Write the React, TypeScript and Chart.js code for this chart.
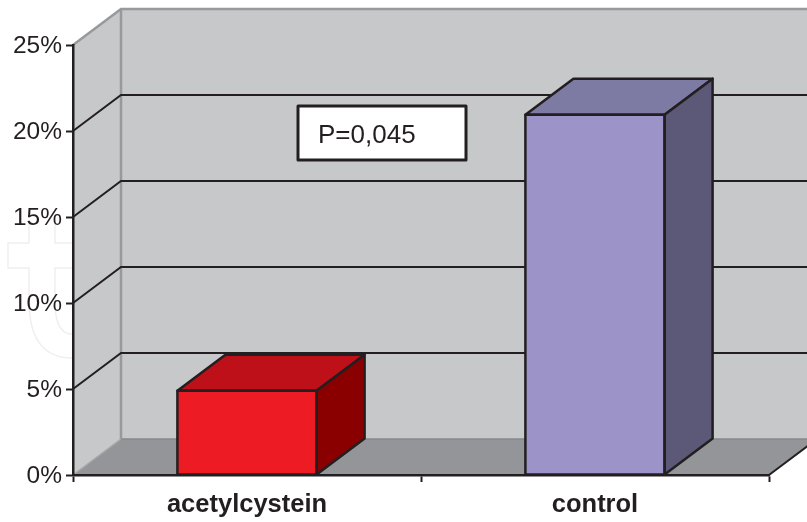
import React, { useEffect, useRef } from "react";
import { Chart, registerables } from "chart.js";

Chart.register(...registerables);

const categories = ["acetylcystein", "control"];
const percentValues = [4.9, 20.95];
const frontColors = ["#ed1c24", "#9c94c8"];
const topColors = ["#bd1018", "#7d7ba3"];
const sideColors = ["#8a0000", "#5c5878"];
const pValueLabel = "P=0,045";

const INK = "#231f20";
const WALL = "#c7c8ca";
const FLOOR = "#939598";
const WALL_EDGE = "#98999c";
const DEPTH_X = 48;
const DEPTH_Y = 36;
const FONT = '"Liberation Sans", Arial, sans-serif';

function polygon(ctx: CanvasRenderingContext2D, pts: number[][], fill?: string, stroke?: string, lw = 2) {
  ctx.beginPath();
  pts.forEach(([x, y], i) => (i ? ctx.lineTo(x, y) : ctx.moveTo(x, y)));
  ctx.closePath();
  if (fill) {
    ctx.fillStyle = fill;
    ctx.fill();
  }
  if (stroke) {
    ctx.strokeStyle = stroke;
    ctx.lineWidth = lw;
    ctx.lineJoin = "round";
    ctx.stroke();
  }
}

function line(ctx: CanvasRenderingContext2D, pts: number[][], color: string, lw: number) {
  ctx.beginPath();
  pts.forEach(([x, y], i) => (i ? ctx.lineTo(x, y) : ctx.moveTo(x, y)));
  ctx.strokeStyle = color;
  ctx.lineWidth = lw;
  ctx.stroke();
}

// Faint publisher mark sitting behind the plot on the left edge.
function drawMark(ctx: CanvasRenderingContext2D) {
  ctx.save();
  ctx.strokeStyle = "#efefef";
  ctx.lineWidth = 1.5;
  ctx.beginPath();
  ctx.moveTo(29, 224);
  ctx.lineTo(29, 243);
  ctx.lineTo(8, 243);
  ctx.lineTo(8, 268);
  ctx.lineTo(29, 268);
  ctx.lineTo(29, 305);
  ctx.quadraticCurveTo(31, 358, 72, 358);
  ctx.moveTo(55, 224);
  ctx.lineTo(55, 243);
  ctx.lineTo(72, 243);
  ctx.moveTo(72, 268);
  ctx.lineTo(55, 268);
  ctx.lineTo(55, 305);
  ctx.quadraticCurveTo(56, 334, 72, 334);
  ctx.stroke();
  ctx.restore();
}

const pseudo3d = {
  id: "pseudo3d",
  // Walls, floor and receding gridlines, all derived from the axis scales.
  beforeDraw(chart: any) {
    const { ctx, scales } = chart;
    const { x: xs, y: ys } = scales;
    const l = xs.left;
    const r = xs.right;
    const top = ys.getPixelForValue(25);
    const base = ys.getPixelForValue(0);
    ctx.save();
    drawMark(ctx);
    polygon(ctx, [[l, base], [l, top], [l + DEPTH_X, top - DEPTH_Y], [l + DEPTH_X, base - DEPTH_Y]], WALL);
    polygon(ctx, [[l + DEPTH_X, top - DEPTH_Y], [r + DEPTH_X, top - DEPTH_Y], [r + DEPTH_X, base - DEPTH_Y], [l + DEPTH_X, base - DEPTH_Y]], WALL);
    polygon(ctx, [[l, base], [l + DEPTH_X, base - DEPTH_Y], [r + DEPTH_X, base - DEPTH_Y], [r, base]], FLOOR);
    line(ctx, [[l + DEPTH_X, base - DEPTH_Y], [r + DEPTH_X, base - DEPTH_Y]], "#87888b", 1.5);
    line(ctx, [[l, base], [l + DEPTH_X, base - DEPTH_Y]], "#a6a7a9", 1.5);
    line(ctx, [[l + DEPTH_X, top - DEPTH_Y], [l + DEPTH_X, base - DEPTH_Y]], WALL_EDGE, 2.5);
    line(ctx, [[l, top], [l + DEPTH_X, top - DEPTH_Y], [r + DEPTH_X, top - DEPTH_Y]], WALL_EDGE, 2.5);
    for (const v of [5, 10, 15, 20]) {
      const y = ys.getPixelForValue(v);
      line(ctx, [[l, y], [l + DEPTH_X, y - DEPTH_Y], [r + DEPTH_X, y - DEPTH_Y]], INK, 2);
    }
    line(ctx, [[r, base], [r + DEPTH_X, base - DEPTH_Y]], INK, 2);
    ctx.restore();
  },
  // Top and side faces of each column, plus the P-value box.
  afterDatasetsDraw(chart: any) {
    const { ctx } = chart;
    const bars = chart.getDatasetMeta(0).data;
    ctx.save();
    bars.forEach((bar: any, i: number) => {
      const { x, y, base, width } = bar.getProps(["x", "y", "base", "width"], true);
      const a = x - width / 2;
      const b = x + width / 2;
      polygon(ctx, [[a, y], [a + DEPTH_X, y - DEPTH_Y], [b + DEPTH_X, y - DEPTH_Y], [b, y]], topColors[i], INK, 2.5);
      polygon(ctx, [[b, y], [b + DEPTH_X, y - DEPTH_Y], [b + DEPTH_X, base - DEPTH_Y], [b, base]], sideColors[i], INK, 2.5);
      polygon(ctx, [[a, y], [b, y], [b, base], [a, base]], undefined, INK, 2.5);
    });
    polygon(ctx, [[298, 106], [466, 106], [466, 160], [298, 160]], "#ffffff", INK, 3);
    ctx.fillStyle = INK;
    ctx.font = `26px ${FONT}`;
    ctx.textAlign = "left";
    ctx.textBaseline = "alphabetic";
    ctx.fillText(pValueLabel, 318, 143);
    ctx.restore();
  },
};

export default function App() {
  const ref = useRef<HTMLCanvasElement>(null);

  useEffect(() => {
    document.body.style.margin = "0";
    const chart = new Chart(ref.current!, {
      type: "bar",
      data: {
        labels: categories,
        datasets: [
          {
            data: percentValues,
            backgroundColor: frontColors,
            borderWidth: 0,
            barPercentage: 0.4,
            categoryPercentage: 1,
          },
        ],
      },
      options: {
        responsive: false,
        animation: false,
        layout: { padding: { top: 45, right: 38, left: 0, bottom: 0 } },
        plugins: { legend: { display: false }, tooltip: { enabled: false } },
        scales: {
          x: {
            afterFit: (s: any) => {
              s.height = 47;
            },
            grid: {
              drawOnChartArea: false,
              drawTicks: true,
              tickLength: 7,
              tickColor: INK,
              tickWidth: 2,
            },
            border: { color: INK, width: 2.5 },
            ticks: {
              color: INK,
              padding: 8,
              maxRotation: 0,
              font: { family: FONT, size: 25.5, weight: "bold" },
            },
          },
          y: {
            min: 0,
            max: 25,
            afterFit: (s: any) => {
              s.width = 73;
            },
            grid: {
              drawOnChartArea: false,
              drawTicks: true,
              tickLength: 7,
              tickColor: INK,
              tickWidth: 2,
            },
            border: { color: INK, width: 2.5 },
            ticks: {
              color: INK,
              stepSize: 5,
              padding: 4,
              labelOffset: 1,
              font: { family: FONT, size: 24.5 },
              callback: (v: any) => `${v}%`,
            },
          },
        },
      },
      plugins: [pseudo3d],
    } as any);
    return () => chart.destroy();
  }, []);

  return (
    <div style={{ position: "absolute", left: 0, top: 0, width: 807, height: 522 }}>
      <canvas ref={ref} width={807} height={522} style={{ display: "block" }} />
    </div>
  );
}
